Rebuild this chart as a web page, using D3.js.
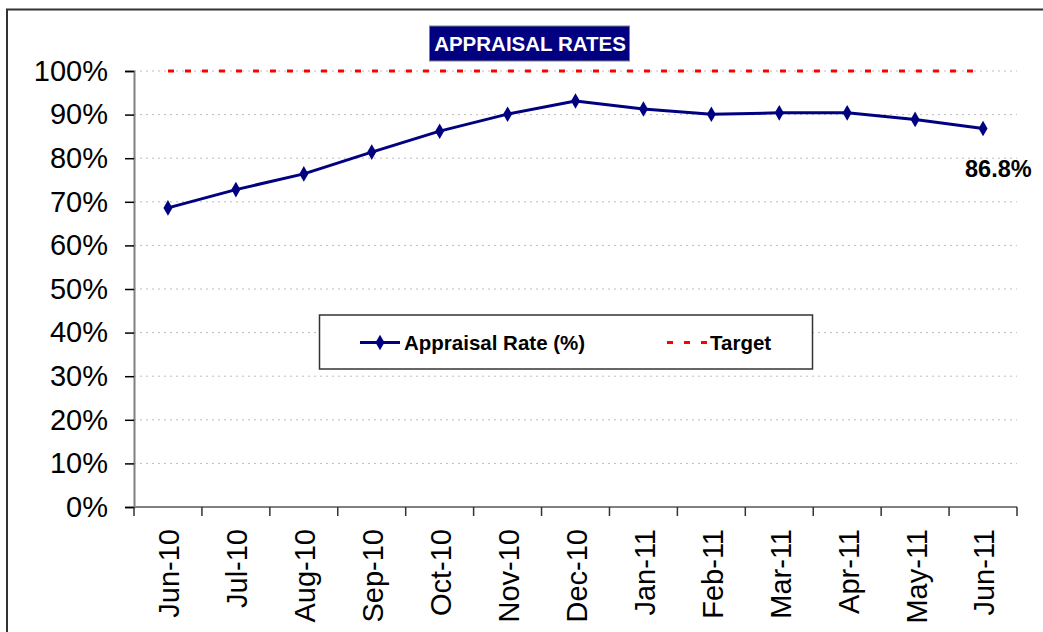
<!DOCTYPE html>
<html>
<head>
<meta charset="utf-8">
<script src="https://cdn.jsdelivr.net/npm/d3@7"></script>
<style>
  html, body { margin: 0; padding: 0; background: #fff; }
  svg { display: block; font-family: Arial, "Liberation Sans", sans-serif; }
</style>
</head>
<body>
<svg id="chart" width="1043" height="632"></svg>
<script>
// Monthly appraisal completion rate against a 100% target
const months = ["Jun-10", "Jul-10", "Aug-10", "Sep-10", "Oct-10", "Nov-10", "Dec-10",
                "Jan-11", "Feb-11", "Mar-11", "Apr-11", "May-11", "Jun-11"];
const appraisalRate = [68.6, 72.8, 76.4, 81.4, 86.2, 90.1, 93.1, 91.3, 90.1, 90.4, 90.4, 88.9, 86.8];
const target = [100, 100, 100, 100, 100, 100, 100, 100, 100, 100, 100, 100, 100];
const yTicks = [0, 10, 20, 30, 40, 50, 60, 70, 80, 90, 100];
const chartTitle = "APPRAISAL RATES";
const seriesNames = ["Appraisal Rate (%)", "Target"];

const svg = d3.select("#chart");
const plot = { left: 134, right: 1017, top: 71, bottom: 507 };

const x = d3.scaleBand().domain(months).range([plot.left, plot.right]).padding(0);
const y = d3.scaleLinear().domain([0, 100]).range([plot.bottom, plot.top]);
const cx = m => x(m) + x.bandwidth() / 2;

// Outer frame (only top and left edges fall inside the page)
svg.append("rect")
  .attr("x", 7).attr("y", 9.5).attr("width", 1100).attr("height", 700)
  .attr("fill", "none").attr("stroke", "#333").attr("stroke-width", 2);

// Horizontal gridlines
svg.append("g")
  .selectAll("line")
  .data(yTicks.filter(t => t > 0))
  .join("line")
  .attr("x1", plot.left).attr("x2", plot.right)
  .attr("y1", d => y(d)).attr("y2", d => y(d))
  .attr("stroke", "#bdbdbd").attr("stroke-width", 1)
  .attr("stroke-dasharray", "2,4");

// Y axis
const yAxis = svg.append("g")
  .attr("transform", `translate(${plot.left},0)`)
  .call(d3.axisLeft(y).tickValues(yTicks).tickFormat(d => d + "%").tickSize(9).tickPadding(17));
yAxis.select(".domain").attr("stroke", "#808080").attr("stroke-width", 2);
yAxis.selectAll(".tick line").attr("stroke", "#000").attr("stroke-width", 1.5);
yAxis.selectAll(".tick text")
  .attr("font-size", 29).attr("fill", "#000")
  .attr("font-family", "Arial, 'Liberation Sans', sans-serif");

// X axis: ticks sit on category boundaries, labels at category centres
const xAxisG = svg.append("g").attr("transform", `translate(0,${plot.bottom})`);
xAxisG.append("line")
  .attr("x1", plot.left).attr("x2", plot.right)
  .attr("stroke", "#808080").attr("stroke-width", 2);
const boundaries = months.map(m => x(m)).concat([x(months[months.length - 1]) + x.bandwidth()]);
xAxisG.selectAll("line.tick")
  .data(boundaries)
  .join("line")
  .attr("class", "tick")
  .attr("x1", d => d).attr("x2", d => d)
  .attr("y1", 0).attr("y2", 9)
  .attr("stroke", "#333").attr("stroke-width", 1.5);
xAxisG.selectAll("text")
  .data(months)
  .join("text")
  .attr("transform", d => `translate(${cx(d) + 1},22) rotate(-90)`)
  .attr("text-anchor", "end")
  .attr("dy", "0.36em")
  .attr("font-size", 29)
  .attr("fill", "#000")
  .text(d => d);

// Target line
const targetLine = d3.line().x((d, i) => cx(months[i])).y(d => y(d));
svg.append("path")
  .datum(target)
  .attr("d", targetLine)
  .attr("fill", "none").attr("stroke", "#ff0000")
  .attr("stroke-width", 3).attr("stroke-dasharray", "6,11");

// Appraisal rate line with diamond markers
const rateLine = d3.line().x((d, i) => cx(months[i])).y(d => y(d));
svg.append("path")
  .datum(appraisalRate)
  .attr("d", rateLine)
  .attr("fill", "none").attr("stroke", "#000080")
  .attr("stroke-width", 3).attr("stroke-linejoin", "round");

const diamond = d3.symbol().type(d3.symbolDiamond).size(70);
svg.append("g")
  .selectAll("path")
  .data(appraisalRate)
  .join("path")
  .attr("transform", (d, i) => `translate(${cx(months[i])},${y(d)})`)
  .attr("d", diamond)
  .attr("fill", "#000080");

// Value label on the latest month
const lastIdx = appraisalRate.length - 1;
svg.append("text")
  .attr("x", cx(months[lastIdx]) - 18)
  .attr("y", y(appraisalRate[lastIdx]) + 48.5)
  .attr("font-size", 23.5).attr("font-weight", "bold").attr("fill", "#000")
  .text(appraisalRate[lastIdx].toFixed(1) + "%");

// Title box
const titleG = svg.append("g");
titleG.append("rect")
  .attr("x", 429.5).attr("y", 26).attr("width", 200).attr("height", 35)
  .attr("fill", "#000080").attr("stroke", "#808080").attr("stroke-width", 1);
titleG.append("text")
  .attr("x", 530).attr("y", 50.5)
  .attr("text-anchor", "middle")
  .attr("font-size", 20.5).attr("font-weight", "bold").attr("fill", "#fff")
  .text(chartTitle);

// Legend
const legend = svg.append("g");
legend.append("rect")
  .attr("x", 319.5).attr("y", 315).attr("width", 493).attr("height", 54)
  .attr("fill", "#fff").attr("stroke", "#333").attr("stroke-width", 1.5);
const legY = 342.5;
legend.append("line")
  .attr("x1", 360).attr("x2", 400).attr("y1", legY).attr("y2", legY)
  .attr("stroke", "#000080").attr("stroke-width", 3);
legend.append("path")
  .attr("transform", `translate(380,${legY})`)
  .attr("d", diamond).attr("fill", "#000080");
legend.append("text")
  .attr("x", 404).attr("y", legY + 7.5)
  .attr("font-size", 20.5).attr("font-weight", "bold").attr("fill", "#000")
  .text(seriesNames[0]);
legend.append("line")
  .attr("x1", 667).attr("x2", 707).attr("y1", legY).attr("y2", legY)
  .attr("stroke", "#ff0000").attr("stroke-width", 3).attr("stroke-dasharray", "6,11");
legend.append("text")
  .attr("x", 710).attr("y", legY + 7.5)
  .attr("font-size", 20.5).attr("font-weight", "bold").attr("fill", "#000")
  .text(seriesNames[1]);
</script>
</body>
</html>
